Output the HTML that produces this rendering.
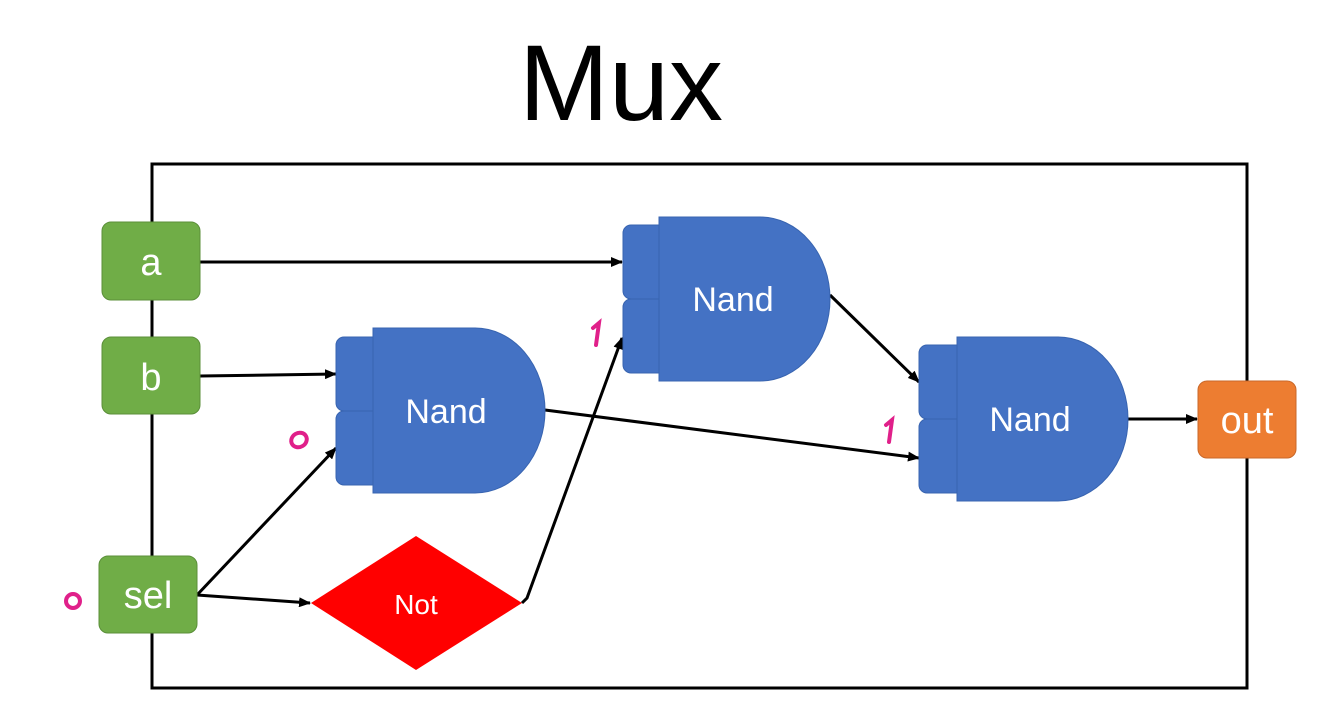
<!DOCTYPE html>
<html><head><meta charset="utf-8"><style>
html,body{margin:0;padding:0;background:#fff;}
svg{display:block;}
</style></head><body>
<svg width="1334" height="714" viewBox="0 0 1334 714" xmlns="http://www.w3.org/2000/svg" font-family="Liberation Sans, sans-serif">
<defs>
<marker id="ar" markerWidth="12" markerHeight="10" refX="11" refY="5" orient="auto" markerUnits="userSpaceOnUse">
<path d="M0,0 L12,5 L0,10 Z" fill="#000"/>
</marker>
</defs>
<text x="621" y="120" font-size="108" text-anchor="middle" fill="#000">Mux</text>
<rect x="152" y="164" width="1095" height="524" fill="none" stroke="#000" stroke-width="3"/>

<g stroke="#000" stroke-width="3" fill="none" marker-end="url(#ar)">
<line x1="200" y1="262" x2="622" y2="262"/>
<line x1="200" y1="376" x2="336" y2="374"/>
<line x1="197" y1="595" x2="336" y2="448"/>
<line x1="197" y1="595" x2="310" y2="603"/>
<polyline points="522,603 527,598 622,338"/>
<line x1="545" y1="410" x2="919" y2="458"/>
<line x1="830" y1="295" x2="919" y2="382"/>
<line x1="1128" y1="419" x2="1197" y2="419"/>
</g>

<g fill="#4472C4" stroke="#3864b0" stroke-width="1">
<rect x="623" y="225" width="50" height="74" rx="8"/>
<rect x="623" y="299" width="50" height="74" rx="8"/>
<path d="M659,217 H760 A70,82 0 0 1 760,381 H659 Z"/>
<rect x="336" y="337" width="50" height="74" rx="8"/>
<rect x="336" y="411" width="50" height="74" rx="8"/>
<path d="M373,328 H475 A70,82.5 0 0 1 475,493 H373 Z"/>
<rect x="919" y="345" width="50" height="74" rx="8"/>
<rect x="919" y="419" width="50" height="74" rx="8"/>
<path d="M957,337 H1058 A70,82 0 0 1 1058,501 H957 Z"/>
</g>
<g fill="#fff" font-size="34" text-anchor="middle">
<text x="733" y="311">Nand</text>
<text x="446" y="423">Nand</text>
<text x="1030" y="431">Nand</text>
</g>

<path d="M311,603 L416,536 L522,603 L416,670 Z" fill="#FF0000"/>
<text x="416" y="614" font-size="28" fill="#fff" text-anchor="middle">Not</text>

<g fill="#70AD47" stroke="#5b8f3a" stroke-width="1">
<rect x="102" y="222" width="98" height="78" rx="9"/>
<rect x="102" y="337" width="98" height="77" rx="9"/>
<rect x="99" y="556" width="98" height="77" rx="9"/>
</g>
<rect x="1198" y="381" width="98" height="77" rx="9" fill="#ED7D31" stroke="#c9682a" stroke-width="1"/>
<g fill="#fff" font-size="38" text-anchor="middle">
<text x="151" y="275">a</text>
<text x="151" y="390">b</text>
<text x="148" y="608">sel</text>
<text x="1247" y="433">out</text>
</g>

<g fill="none" stroke="#E0208A" stroke-width="4" stroke-linecap="round">
<path d="M593,328 L599,323 L596,345"/>
<path d="M886,425 L892,420 L889,442"/>
<ellipse cx="299" cy="440" rx="8" ry="7" transform="rotate(-30 299 440)"/>
<ellipse cx="73" cy="601" rx="7" ry="7"/>
</g>
</svg>
</body></html>
